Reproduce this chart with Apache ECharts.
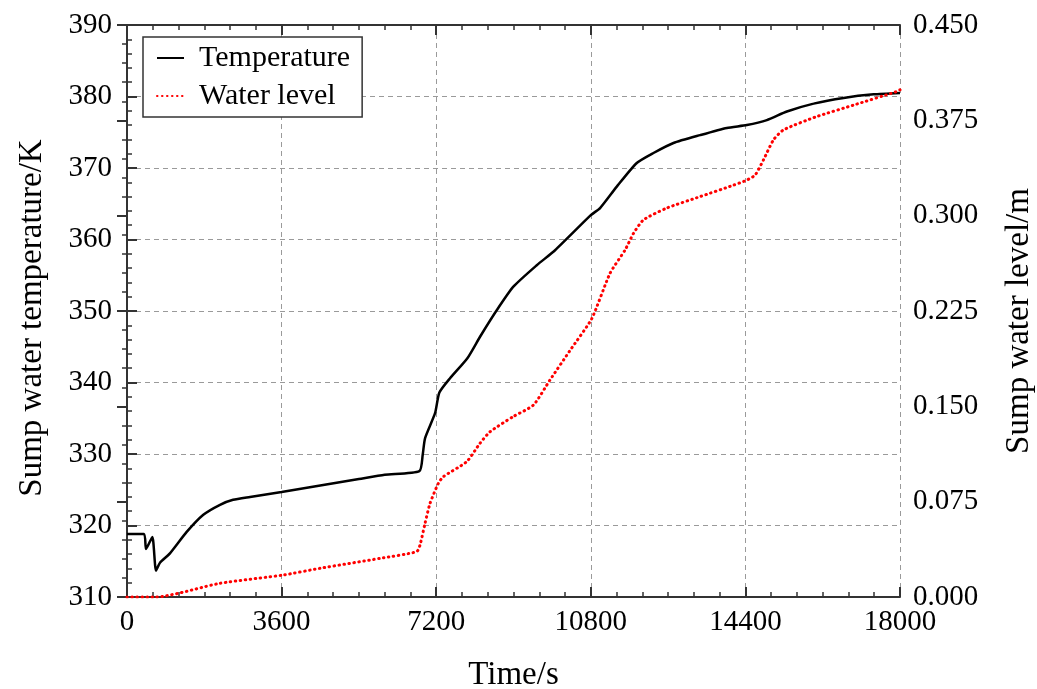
<!DOCTYPE html>
<html>
<head>
<meta charset="utf-8">
<script src="https://cdn.jsdelivr.net/npm/echarts@6/dist/echarts.min.js"></script>
<style>
  html, body { margin: 0; padding: 0; background: #fff; }
  #chart { width: 1037px; height: 689px; }
</style>
</head>
<body>
<div id="chart"></div>
<script>
// Temperature (K)
var tempTime = [0, 396, 442, 590, 675, 768, 1000, 1390, 1777, 2166, 2470, 2865, 3600, 4500, 5400, 6000, 6808,
    6886, 6940, 7173, 7274, 7522, 7926, 8221, 8609, 8997, 9541, 9968, 10800, 11016, 11405, 11871,
    12259, 12725, 13347, 13968, 14434, 14900, 15366, 15988, 16687, 17386, 18000];
var temperature = [318.8, 318.8, 316.7, 318.4, 313.7, 314.8, 316.1, 319.1, 321.5, 322.9, 323.6, 324.0, 324.7, 325.6, 326.5, 327.1, 327.6,
    329.9, 332.2, 335.7, 338.6, 340.6, 343.4, 346.4, 350.1, 353.4, 356.4, 358.5, 363.4, 364.4, 367.4, 370.7,
    372.1, 373.5, 374.6, 375.6, 376.0, 376.7, 377.9, 379.0, 379.8, 380.3, 380.5];

// Sump water level (m)
var levelTime = [0, 675, 2166, 3640, 4495, 5892, 6746, 6824, 6940, 7057, 7251, 7368, 7911, 8221, 8454,
    8997, 9463, 9851, 10317, 10822, 11248, 11598, 11793, 12026, 12570, 13347, 14123, 14434, 14628,
    14822, 15055, 15288, 16065, 16920, 17930, 18000];
var waterLevel = [0, 0, 0.0108, 0.0173, 0.0226, 0.0304, 0.0357, 0.041, 0.058, 0.0737, 0.0895, 0.0947, 0.1065, 0.121, 0.130,
    0.142, 0.151, 0.1708, 0.194, 0.219, 0.2547, 0.273, 0.286, 0.2967, 0.306, 0.315, 0.324, 0.328, 0.332,
    0.344, 0.3597, 0.3675, 0.378, 0.387, 0.3977, 0.399];

var seriesNames = ['Temperature', 'Water level'];

function pairs(xs, ys) {
    var out = [];
    for (var i = 0; i < xs.length; i++) out.push([xs[i], ys[i]]);
    return out;
}

var font = 'Liberation Serif, Times New Roman, serif';
var axisColor = '#333';
var gridLine = { show: true, lineStyle: { color: '#9a9a9a', type: [5, 4], width: 1 } };
var tickStyle = { inside: true, length: 10, lineStyle: { color: axisColor, width: 2 } };

function minor(n) {
    return { show: true, splitNumber: n, length: 5, lineStyle: { color: axisColor, width: 1.5 } };
}

var chart = echarts.init(document.getElementById('chart'));
chart.setOption({
    backgroundColor: '#fff',
    animation: false,
    grid: { left: 127, right: 137, top: 25, bottom: 92, containLabel: false, outerBoundsMode: 'none' },
    legend: {
        data: seriesNames,
        orient: 'vertical',
        left: 143,
        top: 37,
        padding: [6, 12, 6, 13],
        itemGap: 8,
        itemWidth: 27,
        itemHeight: 14,
        borderColor: '#333',
        borderWidth: 1.5,
        backgroundColor: '#fff',
        itemStyle: { opacity: 0 },
        textStyle: { fontFamily: font, fontSize: 30, color: '#000', padding: [0, 0, 0, 10] }
    },
    xAxis: [{
        type: 'value',
        min: 0, max: 18000, interval: 3600,
        name: 'Time/s',
        nameLocation: 'middle',
        nameGap: 62,
        nameTextStyle: { fontFamily: font, fontSize: 33, color: '#000' },
        axisLine: { lineStyle: { color: axisColor, width: 2 } },
        axisTick: tickStyle,
        minorTick: minor(6),
        axisLabel: {
            fontFamily: font, fontSize: 29, color: '#000', margin: 11,
            formatter: function (v) { return String(v); }
        },
        splitLine: gridLine
    }, {
        type: 'value',
        position: 'top',
        min: 0, max: 18000, interval: 3600,
        axisLine: { lineStyle: { color: axisColor, width: 2 } },
        axisTick: tickStyle,
        minorTick: minor(6),
        axisLabel: { show: false },
        splitLine: { show: false }
    }],
    yAxis: [{
        type: 'value',
        min: 310, max: 390, interval: 10,
        name: 'Sump water temperature/K',
        nameLocation: 'middle',
        nameGap: 78,
        nameTextStyle: { fontFamily: font, fontSize: 33, color: '#000', padding: [0, 14, 0, 0] },
        axisLine: { show: true, lineStyle: { color: axisColor, width: 2 } },
        axisTick: tickStyle,
        minorTick: minor(5),
        axisLabel: { fontFamily: font, fontSize: 29, color: '#000', margin: 15 },
        splitLine: gridLine
    }, {
        type: 'value',
        position: 'right',
        min: 0, max: 0.45, interval: 0.075,
        name: 'Sump water level/m',
        nameLocation: 'middle',
        nameGap: 103,
        nameRotate: 90,
        nameTextStyle: { fontFamily: font, fontSize: 33, color: '#000', padding: [0, 20, 0, 0] },
        axisLine: { show: true, lineStyle: { color: axisColor, width: 2 } },
        axisTick: tickStyle,
        minorTick: minor(5),
        axisLabel: {
            fontFamily: font, fontSize: 29, color: '#000', margin: 13,
            formatter: function (v) { return v.toFixed(3); }
        },
        splitLine: { show: false }
    }],
    series: [{
        name: seriesNames[0],
        type: 'line',
        xAxisIndex: 0,
        yAxisIndex: 0,
        data: pairs(tempTime, temperature),
        showSymbol: false,
        symbol: 'none',
        smooth: 0.2,
        itemStyle: { color: '#000' },
        lineStyle: { color: '#000', width: 2.5 }
    }, {
        name: seriesNames[1],
        type: 'line',
        xAxisIndex: 0,
        yAxisIndex: 1,
        data: pairs(levelTime, waterLevel),
        showSymbol: false,
        symbol: 'none',
        smooth: 0.2,
        itemStyle: { color: '#ff0000' },
        lineStyle: { color: '#ff0000', width: 3, type: [0.5, 4.5], cap: 'round' }
    }]
});
</script>
</body>
</html>
